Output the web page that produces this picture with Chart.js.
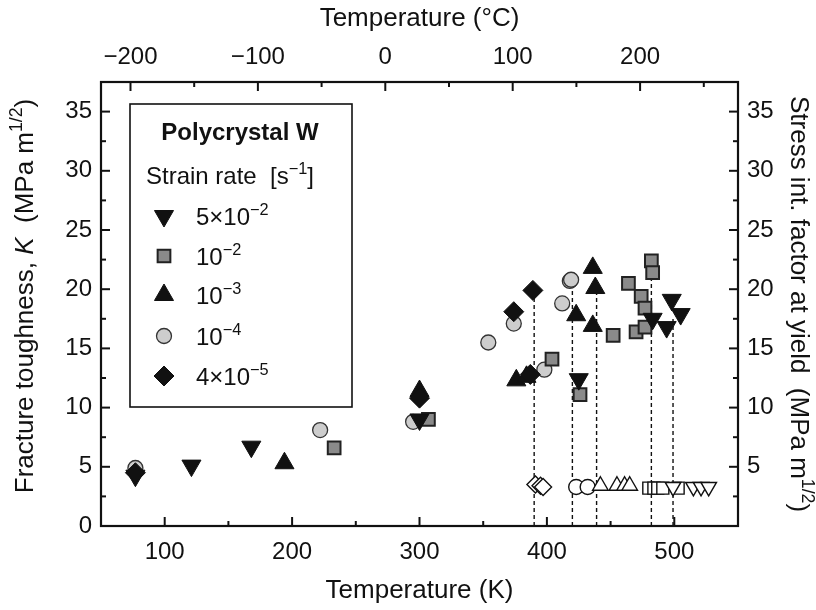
<!DOCTYPE html>
<html>
<head>
<meta charset="utf-8">
<script src="https://cdn.jsdelivr.net/npm/chart.js@4.4.0/dist/chart.umd.min.js"></script>
<style>
  body { margin: 0; background: #fff; }
  #wrap { width: 816px; height: 610px; }
</style>
</head>
<body>
<div id="wrap"><canvas id="kChart"></canvas></div>
<script>
// fracture toughness points: [temperature K, K MPa m^1/2]
const frac5e2 = [[77, 4.25], [121, 5.1], [168, 6.7], [300, 9.0], [425, 12.4], [483, 17.5], [494, 16.8], [498, 19.1], [505, 17.9]];
const frac1e2 = [[233, 6.6], [307, 9.0], [404, 14.1], [426, 11.1], [452, 16.1], [464, 20.5], [470, 16.4], [474, 19.4], [477, 18.4], [477, 16.8], [482, 22.4], [483, 21.4]];
const frac1e3 = [[194, 5.3], [300, 11.4], [376, 12.3], [384, 12.6], [423, 17.8], [436, 21.8], [438, 20.1], [436, 16.9]];
const frac1e4 = [[77, 4.9], [222, 8.1], [295, 8.8], [354, 15.5], [374, 17.1], [398, 13.2], [412, 18.8], [418, 20.7], [419, 20.8]];
const frac4e5 = [[77, 4.5], [300, 10.8], [374, 18.1], [387, 12.8], [389, 19.9]];

// stress intensity factor at yield (open symbols)
const yield5e2 = [[499, 3.3], [515, 3.3], [521, 3.3], [527, 3.3]];
const yield1e2 = [[480, 3.2], [484, 3.2], [487, 3.2], [491, 3.2], [503, 3.2]];
const yield1e3 = [[442, 3.4], [455, 3.4], [461, 3.4], [465, 3.4]];
const yield1e4 = [[423, 3.3], [432, 3.3]];
const yield4e5 = [[391, 3.5], [395, 3.4], [397, 3.3]];

// dashed drop lines: temperature and top value
const dropT = [390, 420, 439, 482, 499];
const dropTop = [19.9, 20.2, 19.6, 21.4, 17.6];

// ticks
const kTicks = [100, 200, 300, 400, 500];
const kMinor = [150, 250, 350, 450];
const cTicks = [-200, -100, 0, 100, 200];
const cMinor = [-150, -50, 50, 150, 250];
const yTicks = [0, 5, 10, 15, 20, 25, 30, 35];
const yRightTicks = [5, 10, 15, 20, 25, 30, 35];
const yMinor = [2.5, 7.5, 12.5, 17.5, 22.5, 27.5, 32.5];

const rateLabels = [["5×10", "−2"], ["10", "−2"], ["10", "−3"], ["10", "−4"], ["4×10", "−5"]];

const FONT = "'Liberation Sans', Arial, Helvetica, sans-serif";
const INK = "#111";

// one style per strain rate, same order as rateLabels; z = draw order (lower on top)
const styles = [
  { shape: "triangle", rot: 180, r: 11, openR: 9, fill: INK, edge: INK, bw: 1, z: 1 },
  { shape: "rect", rot: 0, r: 9, openR: 8.5, fill: "#8a8a8a", edge: "#222", bw: 2, z: 3 },
  { shape: "triangle", rot: 0, r: 11, openR: 9, fill: INK, edge: INK, bw: 1, z: 2 },
  { shape: "circle", rot: 0, r: 7.5, openR: 7.5, fill: "#cdcdcd", edge: "#333", bw: 1.3, z: 4 },
  { shape: "rectRot", rot: 0, r: 10, openR: 8.5, fill: INK, edge: INK, bw: 1, z: 0 },
];

const fracSets = [frac5e2, frac1e2, frac1e3, frac1e4, frac4e5];
const yieldSets = [yield5e2, yield1e2, yield1e3, yield1e4, yield4e5];

function pts(list) {
  return list.map(([x, y]) => ({ x, y }));
}

function series(data, st, open) {
  return {
    data: pts(data),
    showLine: false,
    pointStyle: st.shape,
    pointRotation: st.rot,
    pointRadius: open ? st.openR : st.r,
    pointHoverRadius: open ? st.openR : st.r,
    pointBackgroundColor: open ? "#fff" : st.fill,
    pointBorderColor: open ? INK : st.edge,
    pointBorderWidth: open ? 1.4 : st.bw,
    order: open ? 6 : st.z,
  };
}

const datasets = [];
fracSets.forEach((d, i) => datasets.push(series(d, styles[i], false)));
yieldSets.forEach((d, i) => datasets.push(series(d, styles[i], true)));
dropT.forEach((t, i) => {
  datasets.push({
    type: "line",
    data: [{ x: t, y: 0 }, { x: t, y: dropTop[i] }],
    borderColor: INK,
    borderWidth: 1.4,
    borderDash: [4, 3],
    pointRadius: 0,
    fill: false,
    order: 10,
  });
});

// text with italic / superscript runs
function drawRich(ctx, runs, x, y, size, align) {
  const fontFor = (r) =>
    (r.i ? "italic " : "") + (r.b ? "bold " : "") + (r.s ? size * 0.68 : size) + "px " + FONT;
  let total = 0;
  runs.forEach((r) => {
    ctx.font = fontFor(r);
    r.w = ctx.measureText(r.t).width;
    total += r.w;
  });
  let cx = align === "center" ? x - total / 2 : x;
  ctx.textAlign = "left";
  ctx.textBaseline = "alphabetic";
  runs.forEach((r) => {
    ctx.font = fontFor(r);
    ctx.fillText(r.t, cx, r.s ? y - size * 0.42 : y);
    cx += r.w;
  });
}

function marks(ctx, scale, values, len, side, area) {
  values.forEach((v) => {
    const p = scale.getPixelForValue(v);
    ctx.beginPath();
    if (side === "bottom") { ctx.moveTo(p, area.bottom); ctx.lineTo(p, area.bottom - len); }
    if (side === "top") { ctx.moveTo(p, area.top); ctx.lineTo(p, area.top + len); }
    if (side === "left") { ctx.moveTo(area.left, p); ctx.lineTo(area.left + len, p); }
    if (side === "right") { ctx.moveTo(area.right, p); ctx.lineTo(area.right - len, p); }
    ctx.stroke();
  });
}

const frame = {
  id: "frame",
  afterDraw(chart) {
    const { ctx, chartArea: a, scales } = chart;
    ctx.save();
    ctx.strokeStyle = INK;
    ctx.fillStyle = INK;

    // ticks pointing inward
    ctx.lineWidth = 2;
    marks(ctx, scales.x, kTicks, 9, "bottom", a);
    marks(ctx, scales.x, kMinor, 5, "bottom", a);
    marks(ctx, scales.xC, cTicks, 9, "top", a);
    marks(ctx, scales.xC, cMinor, 5, "top", a);
    marks(ctx, scales.y, yTicks.slice(1), 9, "left", a);
    marks(ctx, scales.y, yMinor, 5, "left", a);
    marks(ctx, scales.yR, yRightTicks, 9, "right", a);
    marks(ctx, scales.yR, yMinor, 5, "right", a);

    ctx.lineWidth = 2.2;
    ctx.strokeRect(a.left, a.top, a.right - a.left, a.bottom - a.top);

    // axis titles
    const ts = 26;
    drawRich(ctx, [{ t: "Temperature (K)" }], (a.left + a.right) / 2, 598, ts, "center");
    drawRich(ctx, [{ t: "Temperature (°C)" }], (a.left + a.right) / 2, 26, ts, "center");

    ctx.save();
    ctx.translate(24, 296);
    ctx.rotate(-Math.PI / 2);
    drawRich(ctx, [{ t: "Fracture toughness, " }, { t: "K", i: true }, { t: "  (MPa m" }, { t: "1/2", s: true }, { t: ")" }], 0, 9, ts, "center");
    ctx.restore();

    ctx.save();
    ctx.translate(800, 304);
    ctx.rotate(Math.PI / 2);
    drawRich(ctx, [{ t: "Stress int. factor at yield  (MPa m" }, { t: "1/2", s: true }, { t: ")" }], 0, 9, ts, "center");
    ctx.restore();

    // legend box
    ctx.lineWidth = 1.6;
    ctx.fillStyle = "#fff";
    ctx.fillRect(130, 104, 222, 303);
    ctx.strokeRect(130, 104, 222, 303);
    ctx.fillStyle = INK;
    drawRich(ctx, [{ t: "Polycrystal W", b: true }], 240, 140, 24, "center");
    drawRich(ctx, [{ t: "Strain rate  [s" }, { t: "−1", s: true }, { t: "]" }], 146, 184, 24, "left");
    const rowY = [216, 256, 295, 336, 376];
    styles.forEach((st, i) => {
      ctx.fillStyle = st.fill;
      ctx.strokeStyle = st.edge;
      ctx.lineWidth = st.bw;
      Chart.helpers.drawPoint(ctx, { pointStyle: st.shape, rotation: st.rot, radius: st.r, borderWidth: st.bw }, 164, rowY[i]);
      ctx.fillStyle = INK;
      drawRich(ctx, [{ t: rateLabels[i][0] }, { t: rateLabels[i][1], s: true }], 196, rowY[i] + 9, 24, "left");
    });
    ctx.restore();
  },
};

const tickFont = { family: FONT, size: 24 };

new Chart(document.getElementById("kChart"), {
  type: "scatter",
  data: { datasets },
  options: {
    responsive: true,
    maintainAspectRatio: false,
    animation: false,
    layout: { padding: 0 },
    plugins: { legend: { display: false }, tooltip: { enabled: false } },
    scales: {
      x: {
        type: "linear", position: "bottom", min: 50, max: 550,
        grid: { display: false, drawTicks: false }, border: { display: false },
        ticks: { font: tickFont, color: INK, padding: 12, maxRotation: 0 },
        afterBuildTicks: (s) => { s.ticks = kTicks.map((v) => ({ value: v })); },
        afterFit: (s) => { s.height = 84; },
      },
      xC: {
        type: "linear", position: "top", min: 50 - 273.15, max: 550 - 273.15,
        grid: { display: false, drawTicks: false }, border: { display: false },
        ticks: { font: tickFont, color: INK, padding: 10, maxRotation: 0, callback: (v) => (v < 0 ? "−" + Math.abs(v) : v) },
        afterBuildTicks: (s) => { s.ticks = cTicks.map((v) => ({ value: v })); },
        afterFit: (s) => { s.height = 82; },
      },
      y: {
        type: "linear", position: "left", min: 0, max: 37.5,
        grid: { display: false, drawTicks: false }, border: { display: false },
        ticks: { font: tickFont, color: INK, padding: 9 },
        afterBuildTicks: (s) => { s.ticks = yTicks.map((v) => ({ value: v })); },
        afterFit: (s) => { s.width = 101; },
      },
      yR: {
        type: "linear", position: "right", min: 0, max: 37.5,
        grid: { display: false, drawTicks: false }, border: { display: false },
        ticks: { font: tickFont, color: INK, padding: 9 },
        afterBuildTicks: (s) => { s.ticks = yRightTicks.map((v) => ({ value: v })); },
        afterFit: (s) => { s.width = 78; },
      },
    },
  },
  plugins: [frame],
});
</script>
</body>
</html>
